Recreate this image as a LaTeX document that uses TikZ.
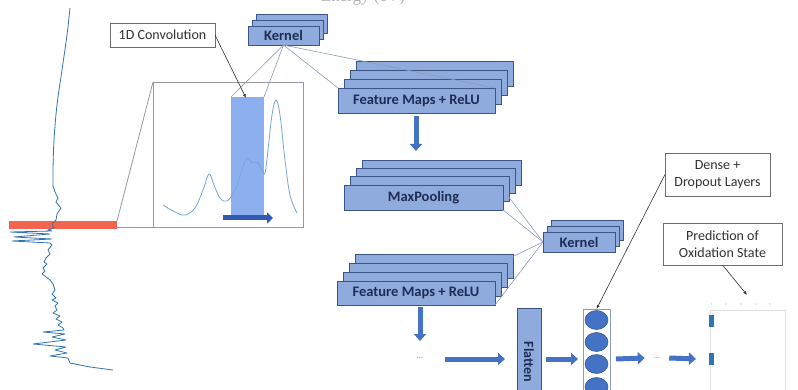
\documentclass[tikz,border=0pt]{standalone}
\usepackage{fontspec}
\setmainfont{Carlito}
\newfontfamily\serifE{Liberation Serif}
\usetikzlibrary{arrows.meta,calc,shapes.geometric}

\definecolor{layerfill}{RGB}{143,170,220}
\definecolor{layerdraw}{RGB}{60,85,135}
\definecolor{layertext}{RGB}{30,45,85}
\definecolor{thinline}{RGB}{140,155,190}
\definecolor{bigarrow}{RGB}{68,114,196}
\definecolor{darkarrow}{RGB}{50,90,180}
\definecolor{convrect}{RGB}{140,175,240}
\definecolor{specblue}{RGB}{46,117,182}
\definecolor{speclight}{RGB}{120,165,215}
\definecolor{redbar}{RGB}{240,100,80}
\definecolor{labeldraw}{RGB}{110,110,110}
\definecolor{labeltext}{RGB}{50,50,50}
\definecolor{boxgray}{RGB}{150,152,165}

\newcommand\backlayers[7]{% x, y, n, dx, dy, w, h
  \foreach \i in {#3,...,1}
    \draw[layerback] ({#1+\i*#4},{#2-\i*#5}) rectangle ++(#6,#7);}

\begin{document}
\begin{tikzpicture}[x=1pt,y=-1pt,
  layerback/.style={draw=layerdraw, fill=layerfill, line width=0.9pt},
  layer/.style={draw=layerdraw, fill=layerfill, line width=0.9pt, text=layertext,
    font=\fontsize{14.5}{16}\selectfont\bfseries, inner sep=0pt, outer sep=0pt, anchor=north west},
  labelbox/.style={draw=labeldraw, fill=white, line width=0.8pt, text=labeltext,
    font=\fontsize{14}{17}\selectfont, inner sep=0pt, outer sep=0pt, align=center, anchor=north west},
  thinl/.style={draw=thinline, line width=0.6pt},
  bigarr/.style={draw=bigarrow, line width=5pt, -{Triangle[width=12pt,length=7pt]}},
  pointer/.style={draw=labeltext, line width=0.6pt, -{Latex[length=4pt,width=3pt]}},
  dotsn/.style={text=gray, font=\fontsize{8}{8}\selectfont, inner sep=1pt}
]
\useasboundingbox (0,0) rectangle (798,390);
\clip (0,0) rectangle (798,390);

% top axis label, cut off at the top edge as in the source
\node[font=\serifE\fontsize{17}{17}\selectfont, text=gray!60, anchor=base] (energy) at (363,2) {Energy (eV)};

% red bar and spectrum
\node[fill=redbar, minimum width=108pt, minimum height=8pt, inner sep=0pt, outer sep=0pt, anchor=north west] (bar) at (9,221) {};
\draw[specblue, line width=0.8pt, line join=round]
  plot[smooth, tension=0.6] coordinates {(70,8)(67,35)(62,70)(57,105)(54,140)(53,170)(53,186)}
  -- (55,192) -- (58,198) -- (56,202) -- (61,208) -- (57,214) -- (56,220) -- (52,224) -- (54,228)
  -- (48,230) -- (52,231) -- (10,232) -- (50,234) -- (14,237) -- (52,239) -- (12,241) -- (50,243)
  -- (52,245) -- (48,250) -- (50,254) -- (46,258) -- (44,262) -- (47,264) -- (43,268) -- (45,271)
  -- (42,274) -- (46,277) -- (50,280) -- (53,284) -- (55,290) -- (52,294) -- (56,298) -- (52,300)
  -- (58,303) -- (55,306) -- (57,310) -- (53,313) -- (60,316) -- (56,319) -- (62,322) -- (58,325)
  -- (63,328) -- (64,330) -- (43,332) -- (65,334) -- (52,337) -- (66,340) -- (33,344) -- (66,347)
  -- (55,350) -- (67,353) -- (50,356) -- (68,358) -- (70,363) -- (90,367) -- (113,370);

% zoom box
\node[draw=boxgray, line width=0.9pt, minimum width=150pt, minimum height=145pt, inner sep=0pt, outer sep=0pt, anchor=north west] (zoom) at (153,82) {};
\draw[boxgray, line width=0.8pt] (bar.north east) -- (zoom.north west);
\draw[boxgray, line width=0.8pt] (bar.south east |- zoom.south west) -- (zoom.south west);
\node[fill=convrect, minimum width=33pt, minimum height=118pt, inner sep=0pt, outer sep=0pt, anchor=north west] (kwin) at (231,97) {};
\draw[speclight, line width=0.8pt]
  plot[smooth, tension=0.6] coordinates {(163,205)(175,212)(185,215)(195,208)(203,190)(209,174)(214,185)(220,198)(227,201)(235,190)(242,170)(247,158)(252,163)(257,162)(262,170)(265,173)(268,150)(272,115)(276,100)(280,115)(285,160)(290,195)(297,213)};
\coordinate (slideA) at (223,218);
\coordinate (slideB) at (273,218);
\draw[draw=darkarrow, line width=5pt, -{Triangle[width=11pt,length=6pt]}] (slideA) -- (slideB);

% kernel (top)
\backlayers{248}{26}{2}{4}{6}{71}{19}
\node[layer, minimum width=71pt, minimum height=19pt] (k1) at (248,26) {Kernel};

% feature maps (top)
\backlayers{338}{88}{3}{6.2}{8.7}{157}{25}
\node[layer, minimum width=157pt, minimum height=25pt] (fm1) at (338,88) {Feature Maps + ReLU};

% maxpooling
\backlayers{344}{185}{3}{6.3}{8.3}{159}{25}
\node[layer, minimum width=159pt, minimum height=25pt] (mp) at (344,185) {MaxPooling};

% kernel (middle)
\backlayers{543}{232}{2}{4}{6}{72}{20}
\node[layer, minimum width=72pt, minimum height=20pt] (k2) at (543,232) {Kernel};

% feature maps (bottom)
\backlayers{337}{281}{3}{6.3}{8.7}{158}{24}
\node[layer, minimum width=158pt, minimum height=24pt] (fm2) at (337,281) {Feature Maps + ReLU};

% kernel connectors
\draw[thinl] (k1.south) -- (kwin.north west);
\draw[thinl] (k1.south) -- (kwin.north east);
\draw[thinl] (k1.south) -- (fm1.north west);
\draw[thinl] (k1.south) -- (fm1.north east);
\coordinate (mpback) at (508,196);
\draw[thinl] (mpback) -- (k2.west);
\draw[thinl] (mp.south east) -- (k2.west);
\coordinate (fm2back) at (512,257);
\draw[thinl] (k2.west) -- (fm2back);
\draw[thinl] (k2.west) -- (fm2.south east);

% big arrows and dots
\coordinate (a1s) at (416,116);
\coordinate (a1e) at (416,151);
\draw[bigarr] (a1s) -- (a1e);
\node[dotsn] (dots1) at (420,358) {...};
\coordinate (a2s) at (420,307);
\coordinate (a2e) at (420,341);
\draw[bigarr] (a2s) -- (a2e);

% flatten
\node[layer, minimum width=24pt, minimum height=100pt] (flat) at (517,308) {};
\node[rotate=-90, text=layertext, font=\fontsize{14}{16}\selectfont\bfseries] (flattxt) at (529,362) {Flatten};
\coordinate (a3s) at (445,359);
\draw[bigarr] (a3s) -- ($(flat.west |- a3s)+(-12,0)$);

% dense layer
\node[draw=thinline, fill=white, line width=0.8pt, minimum width=27pt, minimum height=100pt, inner sep=0pt, outer sep=0pt, anchor=north west] (dense) at (583,309) {};
\foreach \n/\yy in {c1/320, c2/342, c3/364, c4/387}
  \node[ellipse, fill=bigarrow, draw=layerdraw, line width=0.5pt, minimum width=23pt, minimum height=19pt, inner sep=0pt] (\n) at (596.5,\yy) {};
\draw[bigarr] ($(flat.east |- a3s)+(5,0)$) -- ($(dense.west |- a3s)+(-5,0)$);
\node[dotsn] (dots2) at (657,358) {...};
\draw[bigarr] ($(dense.east |- a3s)+(6,0)$) -- ($(dots2.west)+(-8,0)$);

% prediction plot
\node[draw=gray!25, line width=0.6pt, minimum width=75pt, minimum height=100pt, inner sep=0pt, outer sep=0pt, anchor=north west] (plot) at (710,310) {};
\draw[bigarr] ($(dots2.east)+(8,0)$) -- ($(plot.west |- a3s)+(-14,0)$);
\fill[specblue] (709,315) rectangle (714,327);
\fill[specblue] (709,353) rectangle (714,365);
\foreach \xx/\t in {712/1,726/2,741/3,756/4,770/5}
  \node[text=gray!70, font=\fontsize{3}{3}\selectfont, inner sep=0pt] (tick\t) at (\xx,305) {\t};

% label boxes
\node[labelbox, minimum width=105pt, minimum height=24pt] (conv) at (110,23) {1D Convolution};
\coordinate (convtip) at (246,98);
\draw[pointer] (conv.east) -- (convtip);

\node[labelbox, minimum width=105pt, minimum height=43pt] (dl) at (665,153) {Dense +\\Dropout Layers};
\draw[pointer] (dl.west) -- (dense.north);

\node[labelbox, minimum width=119pt, minimum height=42pt] (pred) at (663,223) {Prediction of\\Oxidation State};
\coordinate (predtip) at (747,295);
\draw[pointer] (pred.south) -- (predtip);
\end{tikzpicture}
\end{document}
